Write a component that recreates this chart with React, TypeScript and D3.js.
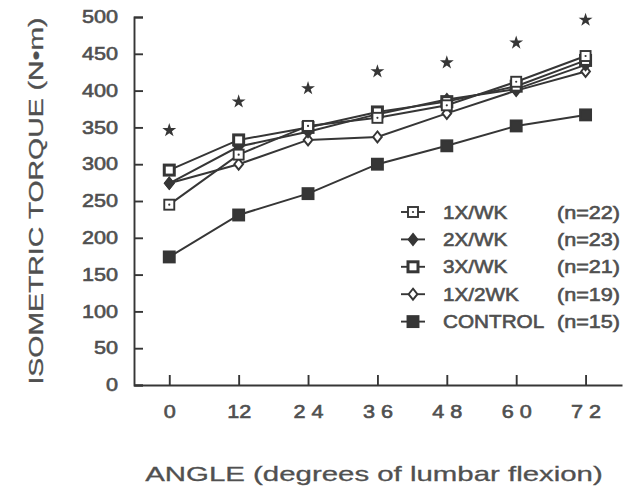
import React, { useEffect, useRef } from 'react';
import * as d3 from 'd3';

// angles (degrees of lumbar flexion)
const angles = [0, 12, 24, 36, 48, 60, 72];
const angleLabels = ['0', '12', '2 4', '3 6', '4 8', '6 0', '7 2'];
const torqueTicks = [0, 50, 100, 150, 200, 250, 300, 350, 400, 450, 500];

// isometric torque (N·m) per group
const oneWk = [245, 313, 352, 363, 380, 412, 447];
const twoWk = [274, 324, 344, 368, 388, 402, 435];
const threeWk = [292, 333, 350, 371, 385, 406, 441];
const oneTwoWk = [274, 300, 333, 337, 369, 400, 426];
const control = [174, 231, 260, 300, 325, 352, 367];
const stars = [346, 385, 403, 426, 438, 465, 496];

const seriesNames = ['1X/WK', '2X/WK', '3X/WK', '1X/2WK', 'CONTROL'];
const seriesN = ['(n=22)', '(n=23)', '(n=21)', '(n=19)', '(n=15)'];
const seriesMarks = ['openSquareDot', 'fillDiamond', 'boldSquare', 'openDiamond', 'fillSquare'];

const INK = '#363636';
const TEXT = '#505050';
const FONT = 'Liberation Sans, Arial, sans-serif';

function drawMarker(g: any, kind: string, cx: number, cy: number) {
    if (kind === 'openSquareDot' || kind === 'boldSquare' || kind === 'fillSquare') {
        const s = kind === 'fillSquare' ? 11 : 10;
        g.append('rect')
            .attr('x', cx - s / 2).attr('y', cy - s / 2)
            .attr('width', s).attr('height', s)
            .attr('fill', kind === 'fillSquare' ? INK : '#fff')
            .attr('stroke', INK)
            .attr('stroke-width', kind === 'boldSquare' ? 3 : 1.9);
        if (kind === 'openSquareDot') {
            g.append('circle').attr('cx', cx).attr('cy', cy).attr('r', 1.1).attr('fill', INK);
        }
    } else {
        const r = 5.5;
        g.append('path')
            .attr('d', `M${cx},${cy - r}L${cx + r * 0.8},${cy}L${cx},${cy + r}L${cx - r * 0.8},${cy}Z`)
            .attr('fill', kind === 'fillDiamond' ? INK : '#fff')
            .attr('stroke', INK)
            .attr('stroke-width', 1.9);
    }
}

// widen text like the scanned original
function stretch(sel: any, f: number) {
    sel.each(function (this: any) {
        const w = this.getComputedTextLength();
        d3.select(this).attr('textLength', w * f).attr('lengthAdjust', 'spacingAndGlyphs');
    });
}

function ink(sel: any, size: number, weight: number) {
    sel.attr('fill', TEXT)
        .attr('stroke', TEXT)
        .attr('stroke-width', weight)
        .attr('font-family', FONT)
        .attr('font-size', size);
}

export default function App() {
    const ref = useRef<SVGSVGElement>(null);

    useEffect(() => {
        const svg = d3.select(ref.current);
        svg.selectAll('*').remove();

        const x = d3.scaleLinear().domain([-6.1, 78.3]).range([134, 622]);
        const y = d3.scaleLinear().domain([0, 500]).range([385, 17]);

        // axes
        const xAxis = d3.axisBottom(x)
            .tickValues(angles)
            .tickSizeInner(-10)
            .tickSizeOuter(0)
            .tickPadding(20)
            .tickFormat((d, i) => angleLabels[i]);
        const yAxis = d3.axisLeft(y)
            .tickValues(torqueTicks)
            .tickSizeInner(-9)
            .tickSizeOuter(-9)
            .tickPadding(16);

        const gx = svg.append('g').attr('transform', `translate(0,${y(0)})`).call(xAxis);
        const gy = svg.append('g').attr('transform', `translate(${x(-6.1)},0)`).call(yAxis);

        [gx, gy].forEach(g => {
            g.selectAll('path, line').attr('stroke', INK).attr('stroke-width', 1.9);
            ink(g.selectAll('text'), 18, 0.6);
        });
        stretch(gx.selectAll('text'), 1.2);
        stretch(gy.selectAll('text'), 1.2);

        // lines + markers
        const line = d3.line<number>().x((d, i) => x(angles[i])).y(d => y(d));
        const series = [control, oneTwoWk, twoWk, threeWk, oneWk];
        const marks = ['fillSquare', 'openDiamond', 'fillDiamond', 'boldSquare', 'openSquareDot'];

        series.forEach(vals => {
            svg.append('path')
                .attr('d', line(vals))
                .attr('fill', 'none')
                .attr('stroke', INK)
                .attr('stroke-width', 2);
        });
        series.forEach((vals, s) => {
            const g = svg.append('g');
            vals.forEach((v, i) => drawMarker(g, marks[s], x(angles[i]), y(v)));
        });

        // significance stars
        const star = d3.symbol().type(d3.symbolStar).size(60);
        svg.append('g').selectAll('path').data(stars).enter()
            .append('path')
            .attr('d', star)
            .attr('transform', (d, i) => `translate(${x(angles[i])},${y(d)})`)
            .attr('fill', INK);

        // legend
        const legend = svg.append('g').attr('transform', 'translate(401,212)');
        seriesNames.forEach((name, i) => {
            const row = legend.append('g').attr('transform', `translate(0,${i * 27.4})`);
            row.append('line').attr('x1', 0).attr('x2', 24).attr('y1', 0).attr('y2', 0)
                .attr('stroke', INK).attr('stroke-width', 1.9);
            drawMarker(row, seriesMarks[i], 12, 0);
            const t1 = row.append('text').attr('x', 42).attr('y', 6.5).text(name);
            const t2 = row.append('text').attr('x', 156).attr('y', 6.5).text(seriesN[i]);
            ink(t1, 18, 0.6);
            ink(t2, 18, 0.6);
            stretch(t1, 1.15);
            stretch(t2, 1.2);
        });

        // axis titles
        const xt = svg.append('text')
            .attr('x', 374).attr('y', 481)
            .attr('text-anchor', 'middle')
            .text('ANGLE (degrees of lumbar flexion)');
        ink(xt, 21, 0.3);
        stretch(xt, 1.4);

        const yt = svg.append('text')
            .attr('transform', 'translate(43,201) rotate(-90)')
            .attr('text-anchor', 'middle')
            .text('ISOMETRIC TORQUE (N\u2022m)');
        ink(yt, 20, 0.3);
        stretch(yt, 1.42);
    }, []);

    return (
        <svg ref={ref} width={630} height={486}
            style={{ position: 'absolute', left: 0, top: 0, background: '#fff' }} />
    );
}
